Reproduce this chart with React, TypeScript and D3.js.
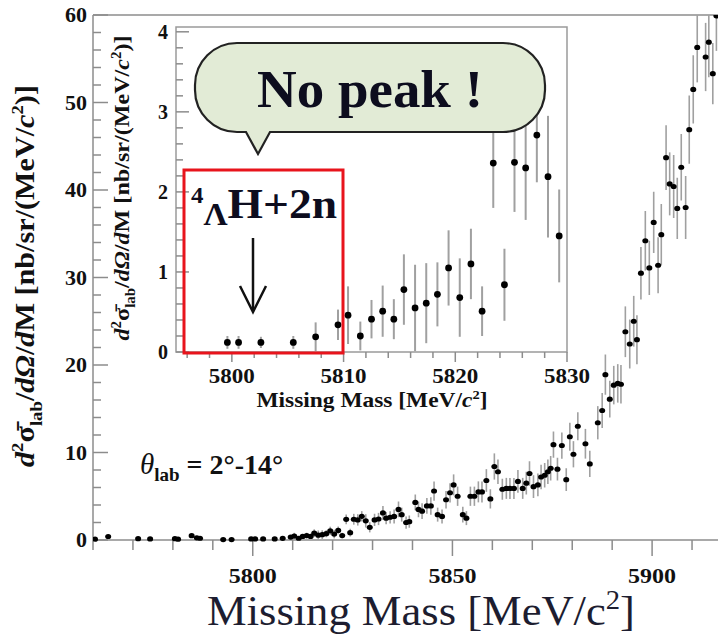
import React from "react";
import * as d3 from "d3";

// Missing-mass spectrum: bin centre [MeV/c^2], cross section [nb/sr/(MeV/c^2)], statistical error
const mass = [
  5760.5, 5763.8, 5771.3, 5774.3, 5780.5, 5781.3, 5784.7, 5786.0, 5786.8, 5792.6, 5794.7,
  5799.6, 5800.6, 5802.6, 5805.5, 5807.5, 5809.5, 5810.4, 5811.5, 5812.5, 5813.5, 5814.5, 5815.4, 5816.4,
  5817.4, 5818.4, 5819.4, 5820.4, 5821.4, 5822.4, 5823.4, 5824.4, 5825.3, 5826.3, 5827.3, 5828.3, 5829.3,
  5830.5, 5831.5, 5832.6, 5833.4, 5834.4, 5835.4, 5836.5, 5837.3, 5838.4, 5839.2,
  5840.7, 5841.5, 5842.4, 5843.6, 5844.6, 5845.4, 5846.3, 5847.4, 5848.4, 5849.4,
  5850.3, 5851.3, 5852.6, 5853.5, 5854.5, 5855.5, 5856.5, 5857.4, 5858.5, 5859.5,
  5860.5, 5861.4, 5862.5, 5863.5, 5864.4, 5865.4, 5866.4, 5867.6, 5868.5, 5869.3,
  5870.3, 5871.4, 5872.2, 5873.1, 5873.9, 5874.6, 5875.3, 5876.3, 5877.4, 5878.5, 5879.4,
  5880.3, 5881.4, 5883.3, 5884.4, 5886.4, 5887.5, 5888.3, 5889.4,
  5890.4, 5891.4, 5892.2, 5893.3, 5894.4, 5895.4, 5896.2, 5897.2, 5898.3, 5899.3,
  5900.4, 5901.5, 5902.3, 5903.5, 5904.4, 5905.4, 5906.3, 5907.3, 5908.4, 5909.3,
  5910.3, 5911.3, 5913.4, 5914.2, 5915.2, 5916.1,
];

const sigma = [
  0.1, 0.4, 0.15, 0.12, 0.15, 0.1, 0.5, 0.25, 0.2, 0.05, 0.05,
  0.12, 0.12, 0.12, 0.12, 0.19, 0.34, 0.46, 0.2, 0.41, 0.51, 0.41, 0.78, 0.55,
  0.61, 0.72, 1.05, 0.68, 1.1, 0.51, 2.36, 0.84, 2.37, 2.3, 2.71, 2.19, 1.45,
  2.3, 2.4, 3.1, 2.5, 2.6, 2.7, 3.5, 2.9, 2.0, 2.1,
  4.3, 3.5, 3.3, 3.9, 3.9, 5.6, 2.9, 2.7, 4.6, 5.4,
  6.3, 5.0, 2.9, 2.5, 5.0, 5.0, 5.5, 5.5, 6.8, 4.7,
  8.4, 7.8, 5.8, 5.9, 5.9, 5.9, 6.7, 5.9, 6.5, 7.6,
  6.1, 6.3, 7.2, 7.4, 7.8, 8.2, 10.9, 8.1, 10.8, 6.9, 11.8,
  9.8, 13.0, 11.0, 8.7, 13.4, 14.8, 18.9, 16.1,
  17.7, 17.9, 17.8, 23.8, 22.4, 25.0, 22.9, 30.5, 34.2, 31.1,
  36.3, 31.4, 34.9, 43.7, 40.7, 40.4, 37.9, 42.6, 38.0, 46.9,
  51.5, 56.3, 55.2, 56.9, 53.3, 59.9,
];

const sigmaErr = [
  0.15, 0.2, 0.1, 0.1, 0.1, 0.1, 0.2, 0.15, 0.15, 0.1, 0.1,
  0.08, 0.08, 0.07, 0.08, 0.18, 0.19, 0.36, 0.18, 0.24, 0.32, 0.25, 0.44, 0.54,
  0.5, 0.4, 0.47, 0.49, 0.44, 0.31, 0.56, 0.45, 0.62, 0.65, 0.59, 0.76, 0.58,
  0.7, 0.7, 0.8, 0.7, 0.7, 0.8, 0.9, 0.8, 0.7, 0.7,
  0.9, 0.9, 0.9, 0.9, 1.0, 1.1, 0.8, 0.8, 1.0, 1.1,
  1.2, 1.1, 0.9, 0.8, 1.1, 1.1, 1.2, 1.2, 1.3, 1.1,
  1.5, 1.4, 1.2, 1.2, 1.2, 1.2, 1.3, 1.2, 1.3, 1.4,
  1.3, 1.3, 1.4, 1.4, 1.4, 1.4, 1.5, 1.3, 1.5, 1.3, 1.6,
  1.5, 1.6, 1.7, 1.5, 1.9, 2.0, 2.3, 2.1,
  2.2, 2.2, 2.2, 2.9, 2.8, 2.9, 2.8, 3.0, 3.4, 3.1,
  3.5, 3.2, 3.5, 3.7, 3.6, 3.6, 3.5, 3.8, 3.6, 3.9,
  3.9, 4.0, 3.9, 4.0, 3.5, 4.0,
];

const mainXTicks = [5800, 5850, 5900];
const mainYTicks = [0, 10, 20, 30, 40, 50, 60];
const insetXTicks = [5800, 5810, 5820, 5830];
const insetYTicks = [0, 1, 2, 3, 4];

const calloutText = "No peak !";
const angleRange = "= 2°-14°";

const SERIF = "'Liberation Serif','Times New Roman',Times,serif";

function YTitle({ cx, cy, size, length }: { cx: number; cy: number; size: number; length: number }) {
  const sup = size * 0.62;
  const up = size * 0.38;
  const down = size * 0.28;
  return (
    <text
      transform={`translate(${cx},${cy}) rotate(-90)`}
      textAnchor="middle"
      fontFamily={SERIF}
      fontWeight="bold"
      fontSize={size}
      fill="#111"
      textLength={length}
      lengthAdjust="spacingAndGlyphs"
    >
      <tspan fontStyle="italic">d</tspan>
      <tspan fontSize={sup} dy={-up}>2</tspan>
      <tspan dy={up}>{"σ\u0304"}</tspan>
      <tspan fontSize={sup} dy={down}>lab</tspan>
      <tspan dy={-down}>/</tspan>
      <tspan fontStyle="italic">dΩ</tspan>
      <tspan>/</tspan>
      <tspan fontStyle="italic">d</tspan>
      <tspan>M [nb/sr/(MeV/</tspan>
      <tspan fontStyle="italic">c</tspan>
      <tspan fontSize={sup} dy={-up}>2</tspan>
      <tspan dy={up}>)]</tspan>
    </text>
  );
}

export default function App() {
  const W = 718;
  const H = 638;

  // main frame
  const mL = 93, mR = 718, mT = 15, mB = 540;
  const x = d3.scaleLinear().domain([5760, 5916.5]).range([mL, mR]);
  const y = d3.scaleLinear().domain([0, 60]).range([mB, mT]);

  // inset frame
  const iL = 176, iR = 567, iT = 27, iB = 352;
  const xi = d3.scaleLinear().domain([5795, 5830]).range([iL, iR]);
  const yi = d3.scaleLinear().domain([0, 4.06]).range([iB, iT]);

  const pts = mass.map((m, i) => ({ m, v: sigma[i], e: sigmaErr[i] }));
  const insetPts = pts.filter((p) => p.m >= xi.domain()[0] && p.m <= xi.domain()[1]);

  const xMinor = d3.range(5760, 5916, 10);
  const yMinor = d3.range(0, 60.01, 2);
  const xiMinor = d3.range(5796, 5830.01, 2);
  const yiMinor = d3.range(0, 4.01, 0.2);

  const axisColor = "#8c8c8c";
  const errColor = "#a0a0a0";

  // speech bubble outline with a tail pointing down
  const bx0 = 195, bx1 = 545, by0 = 43, by1 = 132, br = 42;
  const tailL = 246, tailR = 270, tipX = 258, tipY = 154;
  const bubble = d3.path();
  bubble.moveTo(bx0 + br, by0);
  bubble.lineTo(bx1 - br, by0);
  bubble.arcTo(bx1, by0, bx1, by0 + br, br);
  bubble.lineTo(bx1, by1 - br);
  bubble.arcTo(bx1, by1, bx1 - br, by1, br);
  bubble.lineTo(tailR, by1);
  bubble.lineTo(tipX, tipY);
  bubble.lineTo(tailL, by1);
  bubble.lineTo(bx0 + br, by1);
  bubble.arcTo(bx0, by1, bx0, by1 - br, br);
  bubble.lineTo(bx0, by0 + br);
  bubble.arcTo(bx0, by0, bx0 + br, by0, br);
  bubble.closePath();

  return (
    <svg
      width={W}
      height={H}
      viewBox={`0 0 ${W} ${H}`}
      style={{ position: "absolute", left: 0, top: 0, background: "#fff" }}
    >
      <defs>
        <clipPath id="mainClip">
          <rect x={mL} y={mT} width={mR - mL} height={mB - mT + 6} />
        </clipPath>
        <clipPath id="insetClip">
          <rect x={iL} y={iT} width={iR - iL} height={iB - iT} />
        </clipPath>
      </defs>
      <rect x={0} y={0} width={W} height={H} fill="#fff" />

      {/* main frame */}
      <line x1={mL} x2={W + 5} y1={mT} y2={mT} stroke={axisColor} strokeWidth={1.5} />
      <line x1={mL} x2={mL} y1={mT} y2={mB} stroke={axisColor} strokeWidth={1.5} />
      <line x1={mL} x2={W + 5} y1={mB} y2={mB} stroke={axisColor} strokeWidth={1.5} />

      {xMinor.map((t) => {
        const major = mainXTicks.includes(t);
        return (
          <line key={`mx${t}`} x1={x(t)} x2={x(t)} y1={mB} y2={mB + (major ? 16 : 10)} stroke={axisColor} strokeWidth={1.5} />
        );
      })}
      {yMinor.map((t) => {
        const major = t % 10 === 0;
        return (
          <line key={`my${t}`} x1={mL} x2={mL + (major ? 15 : 8)} y1={y(t)} y2={y(t)} stroke={axisColor} strokeWidth={1.5} />
        );
      })}
      {mainXTicks.map((t) => (
        <text key={`mxl${t}`} x={x(t)} y={583} textAnchor="middle" fontFamily={SERIF} fontWeight="bold" fontSize={22} fill="#111" textLength={48} lengthAdjust="spacingAndGlyphs">
          {t}
        </text>
      ))}
      {mainYTicks.map((t) => (
        <text key={`myl${t}`} x={87} y={y(t) + 7} textAnchor="end" fontFamily={SERIF} fontWeight="bold" fontSize={22} fill="#111">
          {t}
        </text>
      ))}

      {/* main data */}
      <g clipPath="url(#mainClip)">
        {pts.map((p, i) => (
          <line key={`me${i}`} x1={x(p.m)} x2={x(p.m)} y1={y(p.v - p.e)} y2={y(p.v + p.e)} stroke={errColor} strokeWidth={1.6} />
        ))}
        {pts.map((p, i) => (
          <ellipse key={`mp${i}`} cx={x(p.m)} cy={y(p.v)} rx={3} ry={2.6} fill="#000" />
        ))}
      </g>

      {/* axis titles */}
      <text x={421} y={625} textAnchor="middle" fontFamily={SERIF} fontSize={42} fill="#1d1d30" textLength={428} lengthAdjust="spacingAndGlyphs">
        <tspan>Missing Mass [MeV/c</tspan>
        <tspan fontSize={27} dy={-16}>2</tspan>
        <tspan dy={16}>]</tspan>
      </text>
      <YTitle cx={34} cy={276} size={28} length={382} />

      <text x={140} y={474} fontFamily={SERIF} fontSize={29} fill="#111">
        <tspan fontStyle="italic">θ</tspan>
        <tspan fontSize={19} fontWeight="bold" dy={7}>lab</tspan>
        <tspan fontWeight="bold" dy={-7} fontSize={28}>{" " + angleRange}</tspan>
      </text>

      {/* inset */}
      <rect x={iL} y={iT} width={iR - iL} height={iB - iT} fill="#fff" stroke="#9a9a9a" strokeWidth={1.5} />
      {xiMinor.map((t) => {
        const major = insetXTicks.includes(t);
        return (
          <line key={`ix${t}`} x1={xi(t)} x2={xi(t)} y1={iB} y2={iB + (major ? 10 : 6)} stroke={axisColor} strokeWidth={1.5} />
        );
      })}
      {yiMinor.map((t) => {
        const major = Math.abs(t - Math.round(t)) < 1e-6;
        return (
          <line key={`iy${t.toFixed(1)}`} x1={iL} x2={iL + (major ? 13 : 7)} y1={yi(t)} y2={yi(t)} stroke={axisColor} strokeWidth={1.5} />
        );
      })}
      {insetXTicks.map((t) => (
        <text key={`ixl${t}`} x={xi(t)} y={383} textAnchor="middle" fontFamily={SERIF} fontWeight="bold" fontSize={21} fill="#111" textLength={46} lengthAdjust="spacingAndGlyphs">
          {t}
        </text>
      ))}
      {insetYTicks.map((t) => (
        <text key={`iyl${t}`} x={168} y={yi(t) + 7} textAnchor="end" fontFamily={SERIF} fontWeight="bold" fontSize={20} fill="#111">
          {t}
        </text>
      ))}
      <text x={372} y={407} textAnchor="middle" fontFamily={SERIF} fontWeight="bold" fontSize={21} fill="#111" textLength={231} lengthAdjust="spacingAndGlyphs">
        <tspan>Missing Mass [MeV/</tspan>
        <tspan fontStyle="italic">c</tspan>
        <tspan fontSize={13} dy={-8}>2</tspan>
        <tspan dy={8}>]</tspan>
      </text>
      <YTitle cx={129} cy={188} size={22} length={305} />

      <g clipPath="url(#insetClip)">
        {insetPts.map((p, i) => (
          <line key={`ie${i}`} x1={xi(p.m)} x2={xi(p.m)} y1={yi(Math.max(0, p.v - p.e))} y2={yi(p.v + p.e)} stroke={errColor} strokeWidth={2} />
        ))}
        {insetPts.map((p, i) => (
          <circle key={`ip${i}`} cx={xi(p.m)} cy={yi(p.v)} r={3.4} fill="#000" />
        ))}
      </g>

      {/* highlighted region */}
      <rect x={184} y={170} width={159} height={183} fill="none" stroke="#e8141c" strokeWidth={3} />
      <text x={191} y={218} fontFamily={SERIF} fontWeight="bold" fontSize={42} fill="#0d0d1e" textLength={146} lengthAdjust="spacingAndGlyphs">
        <tspan fontSize={23} dy={-15}>4</tspan>
        <tspan fontSize={31} dy={22}>Λ</tspan>
        <tspan dy={-7}>H+2n</tspan>
      </text>
      <line x1={253} x2={253} y1={238} y2={311} stroke="#111" strokeWidth={2.5} />
      <polyline points="240,286 253,312 266,286" fill="none" stroke="#111" strokeWidth={2.5} />

      {/* callout */}
      <path d={bubble.toString()} fill="#e2ebd6" stroke="#222" strokeWidth={2.2} />
      <text x={370} y={107} textAnchor="middle" fontFamily={SERIF} fontWeight="bold" fontSize={52} fill="#0d0d1e" textLength={226} lengthAdjust="spacingAndGlyphs">
        {calloutText}
      </text>
    </svg>
  );
}
